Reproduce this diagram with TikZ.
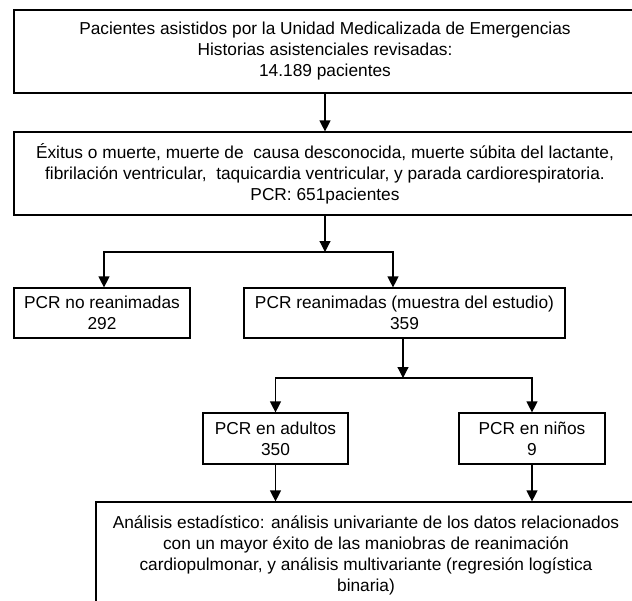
\documentclass[tikz,border=0pt]{standalone}
\usepackage{fontspec}
\setmainfont{Liberation Sans}
\usepackage{tikz}
\usetikzlibrary{arrows.meta}
\tikzset{%
  every box/.style={
    rectangle,
    draw,
    line width=1.2pt,
    inner sep=0pt,
    align=center,
    font=\fontsize{17.3}{21}\selectfont
  },
  link/.style={
    line width=1.2pt
  },
}

\begin{document}
\begin{tikzpicture}[x=1pt, y=-1pt, >={Triangle[length=11pt,width=11pt]}]

    \clip (0,0) rectangle (632,600);

    \node [every box, minimum width=622, minimum height=83] (pacientes) at (325,51.5)
        {Pacientes asistidos por la Unidad Medicalizada de Emergencias\\
         Historias asistenciales revisadas:\\
         14.189 pacientes};

    \node [every box, minimum width=622, minimum height=83] (pcr) at (325,173.5)
        {Éxitus o muerte, muerte de~ causa desconocida, muerte súbita del lactante,\\
         fibrilación ventricular,~ taquicardia ventricular, y parada cardiorespiratoria.\\
         PCR: 651pacientes};

    \node [every box, minimum width=176, minimum height=50] (noreanim) at (102,313)
        {PCR no reanimadas\\ 292};
    \node [every box, minimum width=321, minimum height=50] (reanim) at (404.5,313)
        {PCR reanimadas (muestra del estudio)\\ 359};

    \node [every box, minimum width=145, minimum height=51] (adultos) at (275.5,438.5)
        {PCR en adultos\\ 350};
    \node [every box, minimum width=146, minimum height=51] (ninos) at (532,438.5)
        {PCR en niños\\ 9};

    \node [every box, minimum width=540, minimum height=106] (analisis) at (366,555)
        {Análisis estadístico: análisis univariante de los datos relacionados\\
         con un mayor éxito de las maniobras de reanimación\\
         cardiopulmonar, y análisis multivariante (regresión logística\\
         binaria)};

    \coordinate (split-1) at (325,252);
    \coordinate (split-2) at (403,378);

    \draw [link, ->] (pacientes.south) -- (pcr.north);
    \draw [link, ->] (pcr.south) -- (split-1);
    \draw [link, ->] (split-1) -| ([xshift=2]noreanim.north);
    \draw [link, ->] (split-1) -| ([xshift=-11.5]reanim.north);

    \draw [link, ->] (split-2 |- reanim.south) -- (split-2);
    \draw [link, ->] (split-2) -| (adultos.north);
    \draw [link, ->] (split-2) -| (ninos.north);

    \foreach \b in {adultos, ninos}
        \draw [link, ->] (\b.south) -- (\b.south |- analisis.north);

\end{tikzpicture}
\end{document}
